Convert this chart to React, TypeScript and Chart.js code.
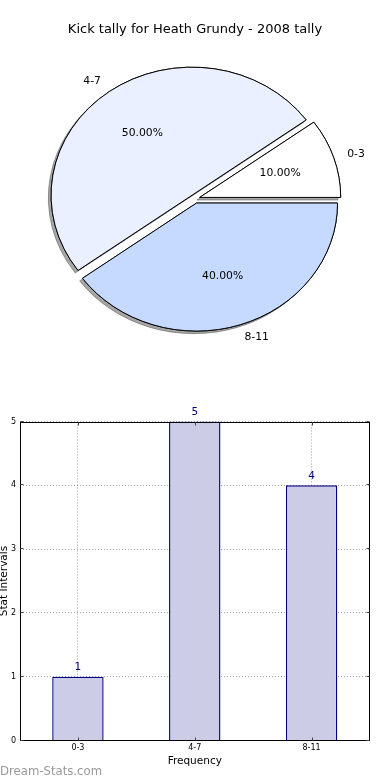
import React, { useEffect, useRef } from "react";
import { Chart, registerables } from "chart.js";

Chart.register(...registerables);

// ---------- data ----------
const TITLE = "Kick tally for Heath Grundy - 2008 tally";
const CATEGORIES = ["0-3", "4-7", "8-11"];
const COUNTS = [1, 5, 4];
const Y_TICKS_MAX = 5;
const X_TITLE = "Frequency";
const Y_TITLE = "Stat Intervals";
const WATERMARK = "Dream-Stats.com";

// ---------- styles ----------
const FONT = "DejaVu Sans";
const PIE_COLORS: Record<string, string> = {
  "0-3": "#ffffff",
  "4-7": "#eaf0ff",
  "8-11": "#c6d9ff",
};
const EXPLODE = 0.035;
const PIE_RADIUS = 141;
const Y_SCALE = 128 / 141;
const SHADOW_DX = -2.8;
const SHADOW_DY = 2.6;

const pieDrawPlugin = {
  id: "pieDraw",
  beforeDatasetsDraw(chart: any) {
    const ctx = chart.ctx;
    const meta = chart.getDatasetMeta(0);
    const arcs = meta.data;
    const ds = chart.data.datasets[0];
    const labels = chart.data.labels;
    const total = ds.data.reduce((a: number, b: number) => a + b, 0);
    const geo = arcs.map((arc: any) => {
      const p = arc.getProps(["x", "y", "startAngle", "endAngle", "outerRadius"], true);
      const mid = (p.startAngle + p.endAngle) / 2;
      const e = EXPLODE * p.outerRadius;
      return { ...p, mid, ex: Math.cos(mid) * e, ey: Math.sin(mid) * e };
    });
    for (let pass = 0; pass < 2; pass++) {
      arcs.forEach((arc: any, i: number) => {
        const g = geo[i];
        ctx.save();
        if (pass === 0) {
          ctx.shadowColor = "rgba(77,77,77,0.5)";
          ctx.shadowOffsetX = SHADOW_DX;
          ctx.shadowOffsetY = SHADOW_DY;
          ctx.shadowBlur = 0;
        }
        ctx.translate(g.x, g.y);
        ctx.scale(1, Y_SCALE);
        ctx.translate(-g.x, -g.y);
        ctx.translate(g.ex, g.ey);
        arc.draw(ctx);
        ctx.restore();
      });
    }
    // labels
    ctx.save();
    ctx.fillStyle = "#000";
    ctx.font = `10.8px "${FONT}"`;
    ctx.textBaseline = "middle";
    arcs.forEach((arc: any, i: number) => {
      const g = geo[i];
      const cx = g.x + g.ex;
      const cy = g.y + g.ey * Y_SCALE;
      const c = Math.cos(g.mid);
      const s = Math.sin(g.mid);
      const R = g.outerRadius;
      ctx.textAlign = c >= 0 ? "left" : "right";
      ctx.fillText(labels[i], cx + c * 1.1 * R, cy + s * 1.1 * R * Y_SCALE);
      ctx.textAlign = "center";
      const pct = ((ds.data[i] / total) * 100).toFixed(2) + "%";
      ctx.fillText(pct, cx + c * 0.6 * R, cy + s * 0.6 * R * Y_SCALE);
    });
    ctx.restore();
    return false;
  },
};

const barExtrasPlugin = {
  id: "barExtras",
  afterDatasetsDraw(chart: any) {
    const ctx = chart.ctx;
    const meta = chart.getDatasetMeta(0);
    const ds = chart.data.datasets[0];
    ctx.save();
    ctx.fillStyle = "#000080";
    ctx.font = `10.5px "${FONT}"`;
    ctx.textAlign = "center";
    ctx.textBaseline = "middle";
    meta.data.forEach((bar: any, i: number) => {
      ctx.fillText(String(ds.data[i]), bar.x, bar.y - 9);
    });
    ctx.restore();
  },
  afterDraw(chart: any) {
    const { ctx, chartArea } = chart;
    ctx.save();
    ctx.strokeStyle = "#000";
    ctx.lineWidth = 1;
    const l = Math.round(chartArea.left) + 0.5;
    const t = Math.round(chartArea.top) + 0.5;
    const r = Math.round(chartArea.right) - 0.5;
    const b = Math.round(chartArea.bottom) - 0.5;
    ctx.strokeRect(l, t, r - l, b - t);
    // inward tick marks (left/right for y, top/bottom for x)
    const TL = 3;
    ctx.strokeStyle = "#444";
    ctx.beginPath();
    const ys = chart.scales.y;
    ys.ticks.forEach((_: any, i: number) => {
      const py = Math.round(ys.getPixelForTick(i)) - 0.5;
      ctx.moveTo(l, py);
      ctx.lineTo(l + TL, py);
      ctx.moveTo(r, py);
      ctx.lineTo(r - TL, py);
    });
    const xs = chart.scales.x;
    xs.ticks.forEach((_: any, i: number) => {
      const px = Math.round(xs.getPixelForTick(i)) + 0.5;
      ctx.moveTo(px, b);
      ctx.lineTo(px, b - TL);
      ctx.moveTo(px, t);
      ctx.lineTo(px, t + TL);
    });
    ctx.stroke();
    ctx.restore();
  },
};

export default function App() {
  const pieRef = useRef<HTMLCanvasElement>(null);
  const barRef = useRef<HTMLCanvasElement>(null);

  useEffect(() => {
    const pieOrder = [...CATEGORIES].reverse();
    const pieValues = [...COUNTS].reverse();
    const pie = new Chart(pieRef.current!, {
      type: "pie",
      data: {
        labels: pieOrder,
        datasets: [
          {
            data: pieValues,
            backgroundColor: pieOrder.map((c) => PIE_COLORS[c]),
            borderColor: "#000",
            borderWidth: 1,
            radius: PIE_RADIUS,
          } as any,
        ],
      },
      options: {
        animation: false,
        responsive: false,
        rotation: 90,
        layout: { padding: 0 },
        plugins: {
          legend: { display: false },
          tooltip: { enabled: false },
          title: {
            display: true,
            text: TITLE,
            color: "#000",
            font: { family: FONT, size: 13, weight: "normal" },
            padding: { top: 22, bottom: 0 },
          },
        },
      } as any,
      plugins: [pieDrawPlugin],
    });

    const bar = new Chart(barRef.current!, {
      type: "bar",
      data: {
        labels: CATEGORIES,
        datasets: [
          {
            data: COUNTS,
            backgroundColor: "rgb(204,204,230)",
            borderColor: "#000080",
            borderWidth: 1.4,
            barPercentage: 0.44,
            categoryPercentage: 1,
          },
        ],
      },
      options: {
        animation: false,
        responsive: false,
        layout: { padding: { top: 21.5, right: 20, left: 0, bottom: 0 } },
        plugins: {
          legend: { display: false },
          tooltip: { enabled: false },
        },
        scales: {
          x: {
            z: 1,
            offset: true,
            grid: { offset: false, color: "#a0a0a0", drawTicks: false, lineWidth: 1 },
            border: { display: false, dash: [1, 2] },
            ticks: { color: "#000", font: { family: FONT, size: 8 }, padding: 3 },
            title: {
              display: true,
              text: X_TITLE,
              color: "#000",
              font: { family: FONT, size: 10.5 },
              padding: { top: 0, bottom: 12.5 },
            },
            afterFit: (s: any) => {
              s.height = 39.5;
            },
          },
          y: {
            z: 1,
            min: 0,
            max: Y_TICKS_MAX,
            grid: { color: "#a0a0a0", drawTicks: false, lineWidth: 1 },
            border: { display: false, dash: [1, 2] },
            ticks: { color: "#000", stepSize: 1, font: { family: FONT, size: 8 }, padding: 3.5 },
            title: {
              display: true,
              text: Y_TITLE,
              color: "#000",
              font: { family: FONT, size: 10.5 },
              padding: { top: -2.4, bottom: 0 },
            },
            afterFit: (s: any) => {
              s.width = 19.5;
            },
          },
        },
      } as any,
      plugins: [barExtrasPlugin],
    });

    return () => {
      pie.destroy();
      bar.destroy();
    };
  }, []);

  return (
    <div style={{ position: "absolute", left: 0, top: 0, width: 390, height: 780, background: "#fff" }}>
      <canvas ref={pieRef} width={390} height={360} style={{ position: "absolute", left: 0, top: 0 }} />
      <canvas ref={barRef} width={390} height={380} style={{ position: "absolute", left: 0, top: 400 }} />
      <div
        style={{
          position: "absolute",
          left: 0,
          top: 764,
          font: `11.7px "${FONT}"`,
          lineHeight: "14px",
          color: "#999",
          whiteSpace: "nowrap",
        }}
      >
        {WATERMARK}
      </div>
    </div>
  );
}
